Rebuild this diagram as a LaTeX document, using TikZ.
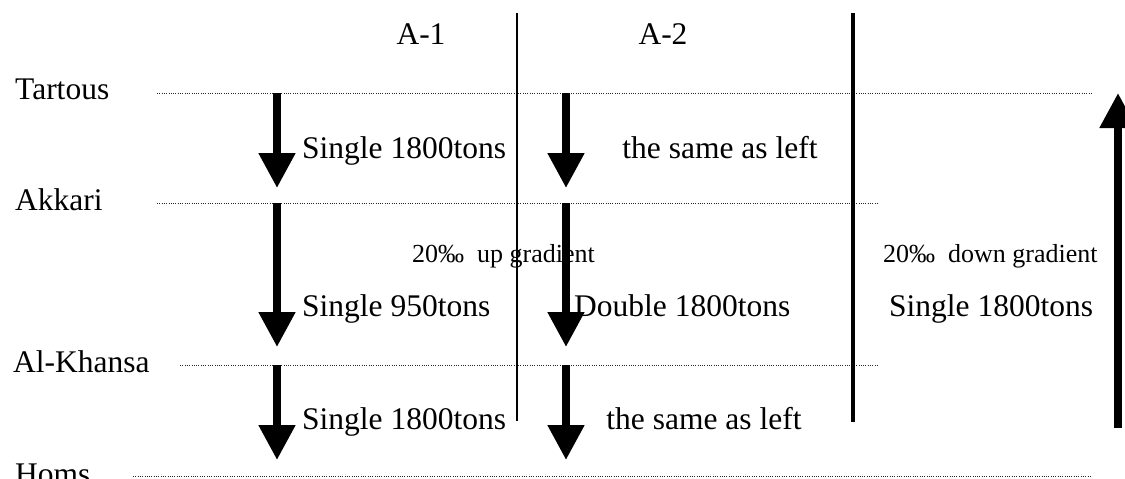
\documentclass[tikz,border=0pt]{standalone}
\usepackage{fontspec}
\setmainfont{Liberation Serif}
\usetikzlibrary{arrows.meta}
\begin{document}
\begin{tikzpicture}[x=1pt,y=-1pt,
  big/.style={font=\fontsize{31.5}{38}\selectfont, inner sep=0pt, anchor=base west},
  bigc/.style={font=\fontsize{31.5}{38}\selectfont, inner sep=0pt, anchor=base},
  small/.style={font=\fontsize{26}{30}\selectfont, inner sep=0pt, anchor=base west},
  dotline/.style={line width=1pt, dash pattern=on 1pt off 1.3pt, black!85},
  runarrow/.style={line width=8pt, -{Triangle[width=35pt,length=35pt]}},
  thinsep/.style={line width=1.5pt},
  thicksep/.style={line width=4pt},
]
\useasboundingbox (0,0) rectangle (1125,479);

% station names
\node[big] (tartous) at (15,99) {Tartous};
\node[big] (akkari) at (15,210) {Akkari};
\node[big] (khansa) at (13,372) {Al-Khansa};
\node[big] (homs) at (15,484) {Homs};

% column headers
\node[bigc] (a1) at (421,44) {A-1};
\node[bigc] (a2) at (663,44) {A-2};

% dotted station lines
\coordinate (t1) at (157,93);  \coordinate (t2) at (1092,93);
\coordinate (k1) at (157,203); \coordinate (k2) at (877,203);
\coordinate (h1) at (180,365); \coordinate (h2) at (877,365);
\coordinate (m1) at (133,476); \coordinate (m2) at (1090,476);
\draw[dotline] (t1) -- (t2);
\draw[dotline] (k1) -- (k2);
\draw[dotline] (h1) -- (h2);
\draw[dotline] (m1) -- (m2);

% separators
\coordinate (s1a) at (517,13); \coordinate (s1b) at (517,421);
\coordinate (s2a) at (853,13); \coordinate (s2b) at (853,422);
\draw[thinsep] (s1a) -- (s1b);
\draw[thicksep] (s2a) -- (s2b);

% down arrows, column A-1
\coordinate (p1a) at (277,93);  \coordinate (p1b) at (277,188);
\coordinate (p2a) at (277,203); \coordinate (p2b) at (277,347);
\coordinate (p3a) at (277,365); \coordinate (p3b) at (277,460);
\draw[runarrow] (p1a) -- (p1b);
\draw[runarrow] (p2a) -- (p2b);
\draw[runarrow] (p3a) -- (p3b);

% down arrows, column A-2
\coordinate (q1a) at (566,93);  \coordinate (q1b) at (566,188);
\coordinate (q2a) at (566,203); \coordinate (q2b) at (566,347);
\coordinate (q3a) at (566,365); \coordinate (q3b) at (566,460);
\draw[runarrow] (q1a) -- (q1b);
\draw[runarrow] (q2a) -- (q2b);
\draw[runarrow] (q3a) -- (q3b);

% up arrow
\coordinate (ua) at (1118,428); \coordinate (ub) at (1118,93);
\draw[runarrow] (ua) -- (ub);

% labels
\node[big] (l1) at (302,158) {Single 1800tons};
\node[bigc] (l2) at (720,158) {the same as left};
\node[small] (g1) at (412,262) {20‰~~up gradient};
\node[small] (g2) at (883,262) {20‰~~down gradient};
\node[big] (l3) at (302,316) {Single 950tons};
\node[big] (l4) at (574,316) {Double 1800tons};
\node[big] (l5) at (889,316) {Single 1800tons};
\node[big] (l6) at (302,429) {Single 1800tons};
\node[bigc] (l7) at (704,429) {the same as left};
\end{tikzpicture}
\end{document}
